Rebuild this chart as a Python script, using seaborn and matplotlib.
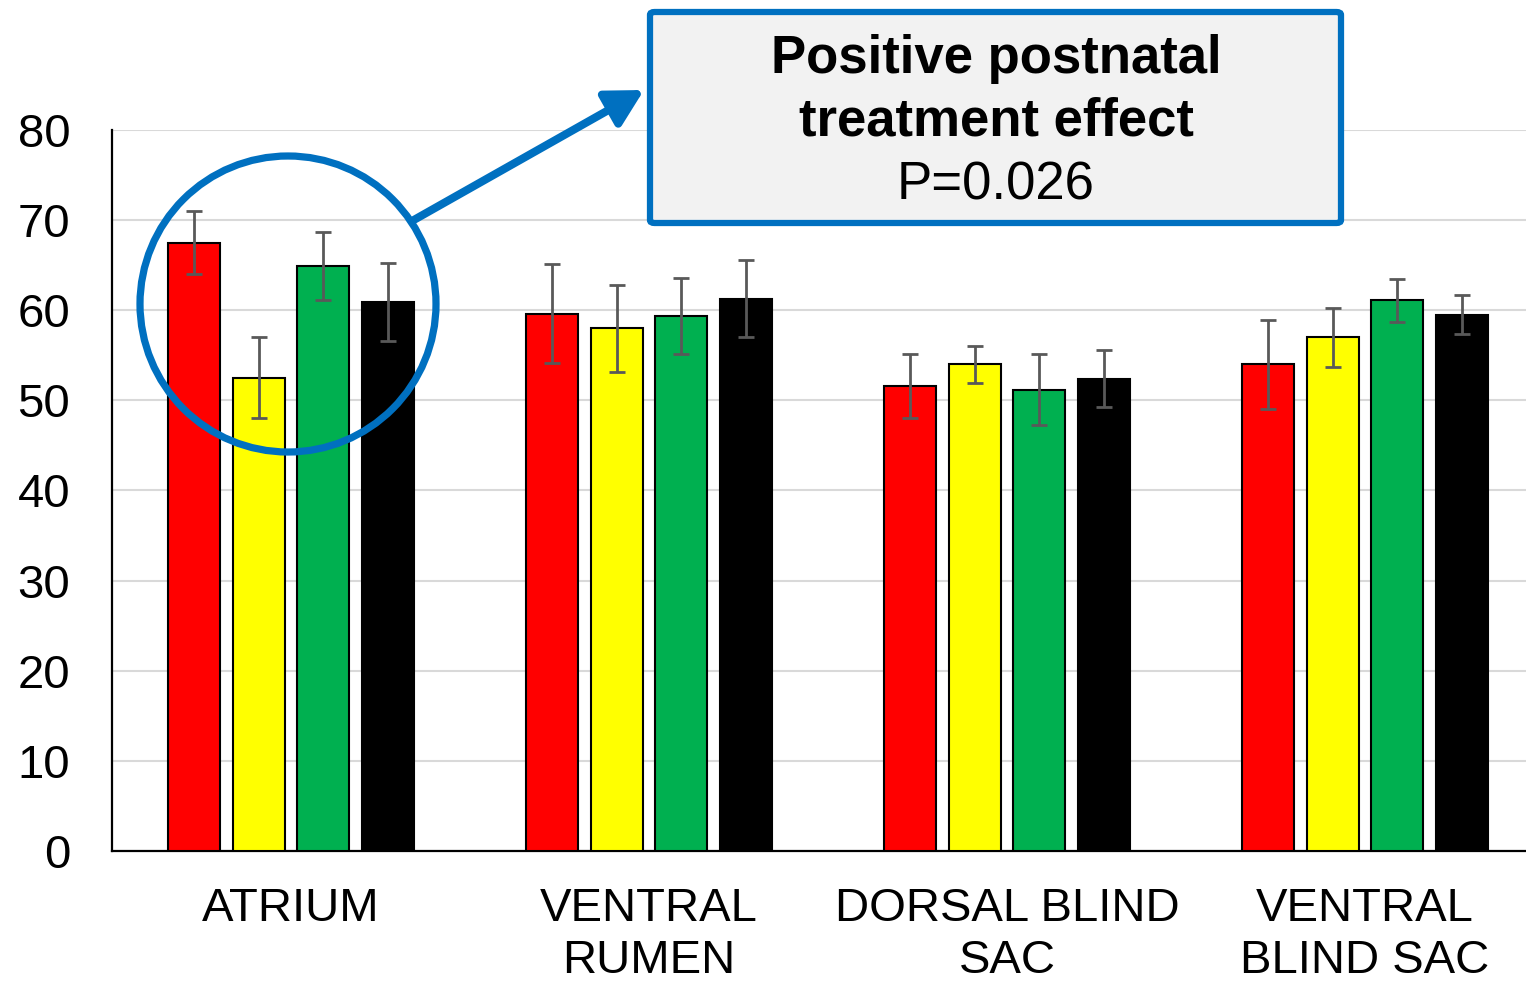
import matplotlib
matplotlib.use('Agg')
import matplotlib.pyplot as plt
from matplotlib.patches import Ellipse, FancyArrowPatch, FancyBboxPatch
import seaborn as sns
import pandas as pd

# Данные
regions = ['ATRIUM', 'VENTRAL\nRUMEN', 'DORSAL BLIND\nSAC', 'VENTRAL\nBLIND SAC']
groups = ['G1', 'G2', 'G3', 'G4']
colors = ['#FF0000', '#FFFF00', '#00B050', '#000000']

means_g1 = [67.5, 59.6, 51.6, 54.0]
means_g2 = [52.5, 58.0, 54.0, 57.0]
means_g3 = [64.9, 59.4, 51.2, 61.1]
means_g4 = [60.9, 61.3, 52.4, 59.5]

se_g1 = [3.5, 5.5, 3.6, 4.95]
se_g2 = [4.5, 4.8, 2.05, 3.3]
se_g3 = [3.75, 4.2, 3.95, 2.35]
se_g4 = [4.35, 4.25, 3.15, 2.15]

means = [means_g1, means_g2, means_g3, means_g4]
ses = [se_g1, se_g2, se_g3, se_g4]

rows = []
for g, vals in zip(groups, means):
    for r, v in zip(regions, vals):
        rows.append({'region': r, 'group': g, 'value': v})
df = pd.DataFrame(rows)

W, H = 1526, 983
sns.set_theme(style='white')
plt.rcParams['font.family'] = ['Liberation Sans', 'DejaVu Sans']
plt.rcParams['text.color'] = 'black'

fig = plt.figure(figsize=(W / 100, H / 100), dpi=100)
ax = fig.add_axes([112 / W, 1 - 851 / H, 1432 / W, 721 / H])

sns.barplot(data=df, x='region', y='value', hue='group', order=regions,
            hue_order=groups, palette=colors, saturation=1, width=0.726,
            gap=0.2, edgecolor='black', linewidth=1.5, errorbar=None,
            legend=False, ax=ax, zorder=3)

# Планки погрешностей по центрам столбцов
for cont, se in zip(ax.containers, ses):
    xs = [p.get_x() + p.get_width() / 2 for p in cont.patches]
    hs = [p.get_height() for p in cont.patches]
    ax.errorbar(xs, hs, yerr=se, fmt='none', ecolor='#595959',
                elinewidth=2, capsize=5.5, capthick=2, zorder=4)

ax.set_ylim(0, 80)
ax.set_xlim(-0.5, 3.5)
ax.set_yticks(range(0, 81, 10))
ax.yaxis.grid(True, color='#d9d9d9', linewidth=1.5, zorder=0)
ax.set_axisbelow(True)
for s in ['top', 'right']:
    ax.spines[s].set_visible(False)
for s in ['left', 'bottom']:
    ax.spines[s].set_color('black')
    ax.spines[s].set_linewidth(1.6)
ax.tick_params(axis='y', length=0, pad=30, labelsize=34, labelcolor='black')
ax.tick_params(axis='x', length=0, pad=26, labelsize=34, labelcolor='black')
for lab in ax.get_xticklabels():
    lab.set_linespacing(1.22)
ax.set_xlabel('')
ax.set_ylabel('')


def fx(x, y):
    return x / W, 1 - y / H


blue = '#0070C0'

# Круг вокруг группы ATRIUM
cx, cy = fx(288, 304)
fig.patches.append(Ellipse((cx, cy), 2 * 148 / W, 2 * 148 / H,
                           transform=fig.transFigure, fill=False,
                           edgecolor=blue, linewidth=5.2, zorder=10))

# Стрелка
arrow = FancyArrowPatch(fx(412, 221), fx(644, 90), transform=fig.transFigure,
                        arrowstyle='-|>,head_length=0.55,head_width=0.3',
                        mutation_scale=40, color=blue, linewidth=5.8,
                        shrinkA=0, shrinkB=0, zorder=10)
fig.patches.append(arrow)

# Рамка с текстом
bx0, by0 = fx(650, 223)
bw, bh = (1341 - 650) / W, (223 - 12) / H
fig.patches.append(FancyBboxPatch((bx0, by0), bw, bh,
                                  boxstyle='round,pad=0,rounding_size=0.003',
                                  transform=fig.transFigure, facecolor='#F2F2F2',
                                  edgecolor=blue, linewidth=4.5, zorder=11))
fig.text(*fx(996, 59), 'Positive postnatal', ha='center', va='center',
         fontsize=38, fontweight='bold', zorder=12)
fig.text(*fx(996, 122), 'treatment effect', ha='center', va='center',
         fontsize=38, fontweight='bold', zorder=12)
fig.text(*fx(996, 186), 'P=0.026', ha='center', va='center',
         fontsize=38, zorder=12)

fig.savefig('out.png', dpi=100)
